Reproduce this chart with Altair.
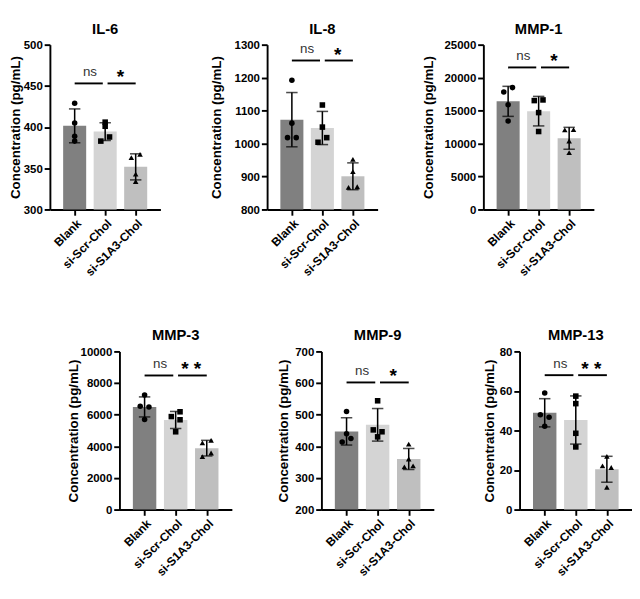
import json
import altair as alt
import pandas as pd

FONT = "Liberation Sans"

groups = ["Blank", "si-Scr-Chol", "si-S1A3-Chol"]
bar_colors = ["#808080", "#d4d4d4", "#bfbfbf"]
point_shapes = ["circle", "square", "triangle-up"]

panel_names = ["IL-6", "IL-8", "MMP-1", "MMP-3", "MMP-9", "MMP-13"]

# replicate values per group (Blank, si-Scr-Chol, si-S1A3-Chol)
il6_values = [[429, 405, 389, 383], [406, 401, 388, 383], [367, 363, 343, 334]]
il8_values = [[1192, 1062, 1018, 1018], [1117, 1050, 1004, 1018], [952, 915, 867, 869]]
mmp1_values = [[18490, 17820, 15900, 13410], [16520, 16620, 14700, 11830], [12070, 12120, 10390, 8620]]
mmp3_values = [[7250, 6530, 6490, 5700], [6185, 5880, 5680, 4920], [4220, 4380, 3580, 3355]]
mmp9_values = [[510, 440, 425, 414], [544, 452, 446, 430], [407, 360, 335, 338]]
mmp13_values = [[59.0, 48.0, 46.7, 42.2], [57.4, 53.6, 38.6, 31.7], [26.9, 22.1, 21.3, 11.3]]

# horizontal column (-1 left, 0 centre, 1 right) of each replicate point
il6_slots = [[0, 0, 0, 0], [0, 0, 1, -1], [1, -1, 0, 0]]
il8_slots = [[0, 0, -1, 1], [0, 0, -1, 1], [0, 0, -1, 1]]
mmp1_slots = [[1, -1, 0, 0], [-1, 1, 0, 0], [-1, 1, 0, 0]]
mmp3_slots = [[0, -1, 1, 0], [1, -1, 1, 0], [-1, 1, 1, -1]]
mmp9_slots = [[0, 0, 1, -1], [0, -1, 1, 0], [0, 0, -1, 1]]
mmp13_slots = [[0, -1, 1, 0], [0, 0, 0, 0], [0, -1, 1, 0]]

all_values = [il6_values, il8_values, mmp1_values, mmp3_values, mmp9_values, mmp13_values]
all_slots = [il6_slots, il8_slots, mmp1_slots, mmp3_slots, mmp9_slots, mmp13_slots]

y_domains = [[300, 500], [800, 1300], [0, 25000], [0, 10000], [200, 700], [0, 80]]
y_ticks = [
    [300, 350, 400, 450, 500],
    [800, 900, 1000, 1100, 1200, 1300],
    [0, 5000, 10000, 15000, 20000, 25000],
    [0, 2000, 4000, 6000, 8000, 10000],
    [200, 300, 400, 500, 600, 700],
    [0, 20, 40, 60, 80],
]
bracket_levels = [453, 1252, 21550, 8480, 602, 68]
ns_labels = ["ns", "ns", "ns", "ns", "ns", "ns"]
star_labels = ["*", "*", "*", "* *", "*", "* *"]

# gap between tick labels and y title per panel
title_pad = [1, 11, 8.5, 0, 5, 3]

PAD = 0.31  # band padding equivalent
SPAN = 3 - PAD + 2 * PAD
X_DOMAIN = [-(PAD + (1 - PAD) / 2), 2 + (PAD + (1 - PAD) / 2)]

label_expr = json.dumps(groups) + "[datum.value]"


def make_panel(i, width, height):
    step = width / SPAN
    bar_w = step * (1 - PAD)
    jit = 5.0 / step
    vals = all_values[i]
    slots = all_slots[i]

    pts = []
    summ = []
    for gi, g in enumerate(groups):
        s = pd.Series(vals[gi], dtype=float)
        m, sd = s.mean(), s.std(ddof=1)
        summ.append({"gi": gi, "group": g, "mean": m, "lo": m - sd, "hi": m + sd})
        for v, sl in zip(vals[gi], slots[gi]):
            pts.append({"group": g, "xp": gi + sl * jit, "value": v})
    pts = pd.DataFrame(pts)
    summ = pd.DataFrame(summ)
    ymin = y_domains[i][0]

    lvl = bracket_levels[i]
    br1 = pd.DataFrame({"a": [0], "b": [1], "lvl": [lvl]})
    br2 = pd.DataFrame({"a": [1], "b": [2], "lvl": [lvl]})
    ns_df = pd.DataFrame({"m": [0.5], "lvl": [lvl], "t": [ns_labels[i]]})
    st_df = pd.DataFrame({"m": [1.5], "lvl": [lvl], "t": [star_labels[i]]})

    xaxis = alt.Axis(values=[0, 1, 2], labelExpr=label_expr, labelAngle=-45,
                     title=None, grid=False, labelFontSize=12.5, labelOverlap=False)
    yaxis = alt.Axis(values=y_ticks[i], title="Concentration (pg/mL)", grid=False,
                     format="d", titlePadding=title_pad[i], labelOverlap=False)
    xs = alt.Scale(domain=X_DOMAIN, nice=False, zero=False)
    ys = alt.Scale(domain=y_domains[i], nice=False, zero=False)

    def X(f):
        return alt.X(f, type="quantitative", scale=xs, axis=xaxis, title=None)

    def Y(f):
        return alt.Y(f, type="quantitative", scale=ys, axis=yaxis,
                     title="Concentration (pg/mL)")

    bars = alt.Chart(summ).mark_bar(size=bar_w).encode(
        x=X("gi"), y=Y("mean"), y2=alt.datum(ymin),
        color=alt.Color("group:N", scale=alt.Scale(domain=groups, range=bar_colors), legend=None),
    )
    err = alt.Chart(summ).mark_rule(color="black", strokeWidth=1.6).encode(
        x=X("gi"), y=Y("lo"), y2="hi")
    cap_lo = alt.Chart(summ).mark_tick(color="black", orient="horizontal", size=12, thickness=1.6).encode(
        x=X("gi"), y=Y("lo"))
    cap_hi = alt.Chart(summ).mark_tick(color="black", orient="horizontal", size=12, thickness=1.6).encode(
        x=X("gi"), y=Y("hi"))
    points = alt.Chart(pts).mark_point(filled=True, size=34, opacity=1, color="black").encode(
        x=X("xp"), y=Y("value"),
        shape=alt.Shape("group:N", scale=alt.Scale(domain=groups, range=point_shapes), legend=None),
    )
    line1 = alt.Chart(br1).mark_rule(color="black", strokeWidth=2, x2Offset=-2.5).encode(
        x=X("a"), x2="b", y=Y("lvl"))
    line2 = alt.Chart(br2).mark_rule(color="black", strokeWidth=2, xOffset=2.5).encode(
        x=X("a"), x2="b", y=Y("lvl"))
    ns_txt = alt.Chart(ns_df).mark_text(font=FONT, fontSize=14, color="#333333",
                                        baseline="alphabetic", dy=-8).encode(
        x=X("m"), y=Y("lvl"), text="t:N")
    st_txt = alt.Chart(st_df).mark_text(font=FONT, fontSize=20, fontWeight="bold", color="black",
                                        baseline="alphabetic", dy=0).encode(
        x=X("m"), y=Y("lvl"), text="t:N")

    return alt.layer(bars, err, cap_lo, cap_hi, points, line1, line2, ns_txt, st_txt).properties(
        width=width, height=height,
        title=alt.TitleParams(panel_names[i], font=FONT, fontSize=15.5, fontWeight="bold",
                              anchor="middle", frame="group", offset=2, color="black"),
    )


TOP_W, TOP_H = 116, 173
BOT_W, BOT_H = 118, 166

p = [make_panel(k, TOP_W, TOP_H) for k in range(3)] + [make_panel(k, BOT_W, BOT_H) for k in range(3, 6)]

spacer = alt.Chart(pd.DataFrame({"a": [0]})).mark_rule(opacity=0).encode(
    x=alt.value(0), y=alt.value(0), y2=alt.value(1)).properties(width=17, height=1)

top_row = alt.hconcat(alt.hconcat(p[0], p[1], spacing=52), p[2], spacing=47)
bot_row = alt.hconcat(spacer, alt.hconcat(alt.hconcat(p[3], p[4], spacing=46), p[5], spacing=51), spacing=0)

chart = alt.vconcat(top_row, bot_row, spacing=53).configure(
    padding={"left": 0, "top": 0, "right": 0, "bottom": 0},
    background="white",
).configure_view(strokeWidth=0).configure_axis(
    domainColor="black", domainWidth=2, tickColor="black", tickWidth=2, tickSize=6,
    labelFont=FONT, labelFontWeight="bold", labelFontSize=12, labelColor="black", labelPadding=2,
    titleFont=FONT, titleFontWeight="bold", titleFontSize=14, titleColor="black",
)

chart.save("out.html", embed_options={"renderer": "svg", "actions": False})
